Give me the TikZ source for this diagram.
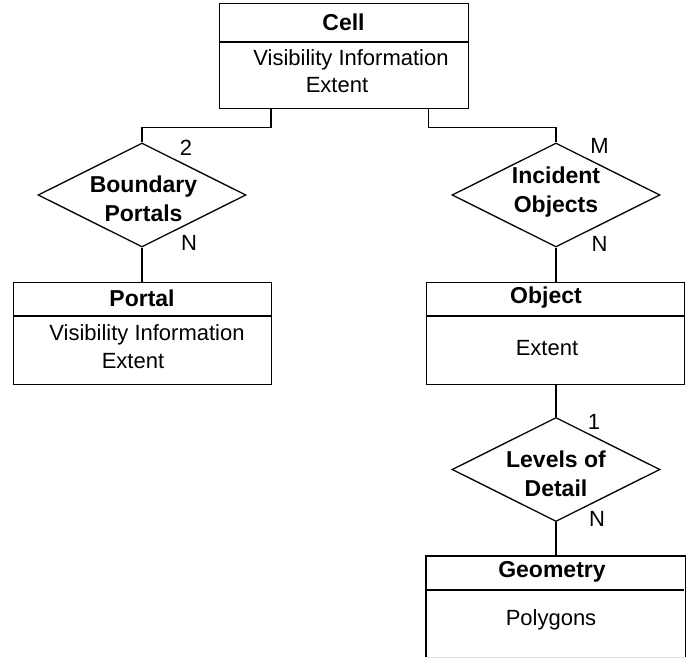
\documentclass[tikz,border=0pt]{standalone}
\usepackage{fontspec}
\setmainfont{Liberation Sans}
\usetikzlibrary{shapes.geometric,calc}
\begin{document}
\begin{tikzpicture}[x=1pt,y=-1pt,
  line width=1.3pt,
  ent/.style={draw,rectangle,inner sep=0pt,anchor=north west},
  rel/.style={draw,diamond,inner sep=0pt,minimum width=208pt,minimum height=104pt},
  hdr/.style={font=\fontsize{23}{26}\selectfont\bfseries},
  att/.style={font=\fontsize{22}{26}\selectfont,inner sep=0pt},
  rtxt/.style={font=\fontsize{23}{29}\selectfont\bfseries,align=center,inner sep=0pt},
  card/.style={font=\fontsize{22}{26}\selectfont,inner sep=0pt}]
\useasboundingbox (0,0) rectangle (691,658);

% Cell
\node[ent,minimum width=249pt,minimum height=105pt] (cell) at (219,3) {};
\draw (219,42) -- (468,42);
\node[hdr] (cellh) at (343.5,22.5) {Cell};
\node[att] (cella1) at (351,60) {Visibility Information};
\node[att] (cella2) at (337,85) {Extent};

% Boundary Portals
\node[rel] (bp) at (142,195) {};
\node[rtxt] (bpt) at (143.5,199) {Boundary\\Portals};
\node[card] (bp2) at (186,148) {2};
\node[card] (bpn) at (189,243) {N};

% Portal
\node[ent,minimum width=258pt,minimum height=102pt] (portal) at (13,282) {};
\draw (13,316) -- (271,316);
\node[hdr] (portalh) at (142,298) {Portal};
\node[att] (portala1) at (147,335) {Visibility Information};
\node[att] (portala2) at (133,361) {Extent};

% Incident Objects
\node[rel] (io) at (556,195) {};
\node[rtxt] (iot) at (556,192) {Incident\\Objects};
\node[card] (iom) at (599.5,146) {M};
\node[card] (ion) at (599.5,244) {N};

% Object
\node[ent,minimum width=258pt,minimum height=102pt] (obj) at (426,282) {};
\draw (426,316) -- (684,316);
\node[hdr] (objh) at (546,298) {Object};
\node[att] (obja1) at (547,348) {Extent};

% Levels of Detail
\node[rel] (lod) at (556,469.5) {};
\node[rtxt] (lodt) at (556,474) {Levels of\\Detail};
\node[card] (lod1) at (594,421.5) {1};
\node[card] (lodn) at (597,519) {N};

% Geometry (cut off at the bottom)
\node[rectangle,inner sep=0pt,minimum width=258pt,minimum height=100pt,anchor=north west] (geo) at (426,556) {};
\draw (geo.south west) -- (geo.north west) -- (geo.north east) -- (geo.south east);
\draw[line width=0.8pt,black!12] (geo.south west) -- (geo.south east);
\draw (426,590) -- (684,590);
\node[hdr] (geoh) at (552,572) {Geometry};
\node[att] (geoa1) at (551,620) {Polygons};

% connectors
\coordinate (c1) at ([xshift=52pt]cell.south west);
\coordinate (c2) at ([xshift=-41pt]cell.south east);
\draw (c1) -- ($(c1)+(0,18)$) -| (bp.north);
\draw (c2) -- ($(c2)+(0,18)$) -| (io.north);
\draw (bp.south) -- (bp.south |- portal.north);
\draw (io.south) -- (io.south |- obj.north);
\draw (obj.south -| lod.north) -- (lod.north);
\draw (lod.south) -- (lod.south |- geo.north);
\end{tikzpicture}
\end{document}
